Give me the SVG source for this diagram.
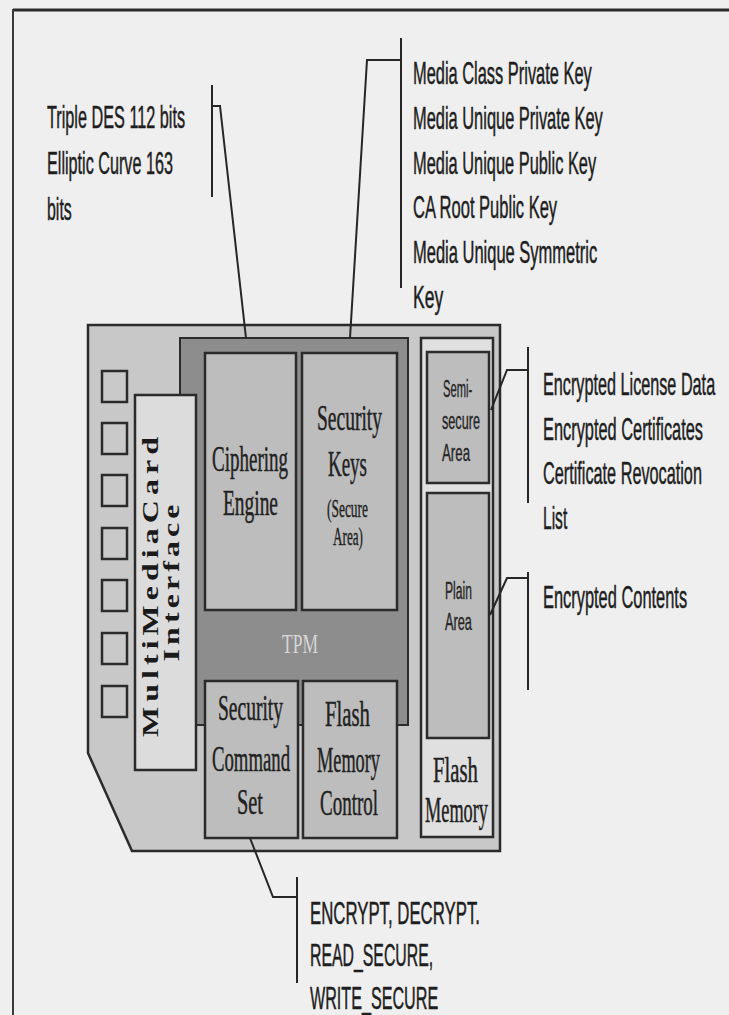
<svg xmlns="http://www.w3.org/2000/svg" width="729" height="1015" viewBox="0 0 729 1015">
<defs>
<style>
.sans{font-family:"Liberation Sans",Arial,sans-serif;font-size:31px;fill:#1e1e1e;stroke:#1e1e1e;stroke-width:0.5}
.small{font-family:"Liberation Sans",Arial,sans-serif;font-size:24px;fill:#262626;stroke:#262626;stroke-width:0.4}
.ser{font-family:"Liberation Serif","Times New Roman",serif;font-size:36px;fill:#222;stroke:#222;stroke-width:0.5}
.ser2{font-family:"Liberation Serif","Times New Roman",serif;font-size:26px;fill:#222;stroke:#222;stroke-width:0.4}
.mmc{font-family:"Liberation Serif","Times New Roman",serif;font-size:32px;font-weight:bold;fill:#1a1a1a}
.box{fill:#bdbdbd;stroke:#2b2b2b;stroke-width:2.5}
.pin{fill:#c9c9c9;stroke:#2b2b2b;stroke-width:2.5}
.lead{fill:none;stroke:#262626;stroke-width:2}
</style>
</defs>
<rect x="0" y="0" width="729" height="1015" fill="#efefef"/>
<g id="frame">
<line x1="13" y1="10" x2="729" y2="10" stroke="#2a2a2a" stroke-width="3"/>
<line x1="13" y1="9" x2="13" y2="1015" stroke="#3a3a3a" stroke-width="2"/>
</g>
<g id="card">
<polygon points="88,325 500,325 500,851 132,851 88,753" fill="#c8c8c8" stroke="#2b2b2b" stroke-width="2.5"/>
</g>
<g id="contacts">
<rect class="pin" x="102" y="371" width="25" height="31"/>
<rect class="pin" x="102" y="423" width="25" height="31"/>
<rect class="pin" x="102" y="475" width="25" height="31"/>
<rect class="pin" x="102" y="528" width="25" height="31"/>
<rect class="pin" x="102" y="580" width="25" height="31"/>
<rect class="pin" x="102" y="633" width="25" height="31"/>
<rect class="pin" x="102" y="686" width="25" height="31"/>
</g>
<g id="tpm">
<rect x="180" y="338" width="228" height="387" fill="#8d8d8d" stroke="#2b2b2b" stroke-width="2"/>
<text transform="translate(282,653) scale(0.5,1)" textLength="72" lengthAdjust="spacingAndGlyphs" style="font-family:'Liberation Serif',serif;font-size:28px;fill:#d6d6d6">TPM</text>
</g>
<g id="mmc-interface">
<rect x="135" y="395" width="61" height="375" fill="#dcdcdc" stroke="#2b2b2b" stroke-width="2.5"/>
<text class="mmc" transform="translate(158,587) rotate(-90) scale(1,0.72)" text-anchor="middle" textLength="300" lengthAdjust="spacing">MultiMediaCard</text>
<text class="mmc" transform="translate(179,583) rotate(-90) scale(1,0.72)" text-anchor="middle" textLength="157" lengthAdjust="spacing">Interface</text>
</g>
<g id="ciphering-engine">
<rect class="box" x="205" y="353" width="91" height="257"/>
<text class="ser" transform="translate(212,471) scale(0.5,1)" textLength="152" lengthAdjust="spacingAndGlyphs">Ciphering</text>
<text class="ser" transform="translate(223,515) scale(0.5,1)" textLength="110" lengthAdjust="spacingAndGlyphs">Engine</text>
</g>
<g id="security-keys">
<rect class="box" x="302" y="353" width="95" height="257"/>
<text class="ser" transform="translate(317,430) scale(0.5,1)" textLength="130" lengthAdjust="spacingAndGlyphs">Security</text>
<text class="ser" transform="translate(328,476) scale(0.5,1)" textLength="78" lengthAdjust="spacingAndGlyphs">Keys</text>
<text class="ser2" transform="translate(327,517) scale(0.5,1)" textLength="82" lengthAdjust="spacingAndGlyphs">(Secure</text>
<text class="ser2" transform="translate(333,545) scale(0.5,1)" textLength="60" lengthAdjust="spacingAndGlyphs">Area)</text>
</g>
<g id="security-command-set">
<rect class="box" x="205" y="681" width="93" height="157"/>
<text class="ser" transform="translate(218,720) scale(0.5,1)" textLength="130" lengthAdjust="spacingAndGlyphs">Security</text>
<text class="ser" transform="translate(212,771) scale(0.5,1)" textLength="156" lengthAdjust="spacingAndGlyphs">Command</text>
<text class="ser" transform="translate(237,814) scale(0.5,1)" textLength="52" lengthAdjust="spacingAndGlyphs">Set</text>
</g>
<g id="flash-memory-control">
<rect class="box" x="303" y="681" width="94" height="157"/>
<text class="ser" transform="translate(325,726) scale(0.5,1)" textLength="90" lengthAdjust="spacingAndGlyphs">Flash</text>
<text class="ser" transform="translate(317,772) scale(0.5,1)" textLength="126" lengthAdjust="spacingAndGlyphs">Memory</text>
<text class="ser" transform="translate(320,815) scale(0.5,1)" textLength="116" lengthAdjust="spacingAndGlyphs">Control</text>
</g>
<g id="flash-memory">
<rect x="421" y="338" width="72" height="499" fill="#e0e0e0" stroke="#2b2b2b" stroke-width="2.5"/>
<text class="ser" transform="translate(433,782) scale(0.5,1)" textLength="90" lengthAdjust="spacingAndGlyphs">Flash</text>
<text class="ser" transform="translate(425,822) scale(0.5,1)" textLength="126" lengthAdjust="spacingAndGlyphs">Memory</text>
</g>
<g id="semi-secure-area">
<rect class="box" x="427" y="352" width="62" height="131"/>
<text class="small" transform="translate(443,397) scale(0.55,1)" textLength="53" lengthAdjust="spacingAndGlyphs">Semi-</text>
<text class="small" transform="translate(442,429) scale(0.55,1)" textLength="69" lengthAdjust="spacingAndGlyphs">secure</text>
<text class="small" transform="translate(442,461) scale(0.55,1)" textLength="51" lengthAdjust="spacingAndGlyphs">Area</text>
</g>
<g id="plain-area">
<rect class="box" x="427" y="493" width="62" height="245"/>
<text class="small" transform="translate(445,599) scale(0.55,1)" textLength="49" lengthAdjust="spacingAndGlyphs">Plain</text>
<text class="small" transform="translate(445,630) scale(0.55,1)" textLength="49" lengthAdjust="spacingAndGlyphs">Area</text>
</g>
<g id="connectors">
<line class="lead" x1="212" y1="85" x2="212" y2="197"/>
<polyline class="lead" points="212,106 220,106 246,338"/>
<line class="lead" x1="401" y1="38" x2="401" y2="288"/>
<polyline class="lead" points="401,60 367,60 350,338"/>
<line class="lead" x1="528" y1="347" x2="528" y2="503"/>
<polyline class="lead" points="528,370 507,370 491,410"/>
<line class="lead" x1="528" y1="572" x2="528" y2="690"/>
<polyline class="lead" points="528,578 507,578 490,615"/>
<line class="lead" x1="297" y1="877" x2="297" y2="983"/>
<polyline class="lead" points="250,838 273,897 297,897"/>
</g>
<g id="label-cipher">
<text class="sans" transform="translate(47,128) scale(0.55,1)" textLength="251" lengthAdjust="spacingAndGlyphs">Triple DES 112 bits</text>
<text class="sans" transform="translate(47,174) scale(0.55,1)" textLength="229" lengthAdjust="spacingAndGlyphs">Elliptic Curve 163</text>
<text class="sans" transform="translate(47,220) scale(0.55,1)" textLength="45" lengthAdjust="spacingAndGlyphs">bits</text>
</g>
<g id="label-keys">
<text class="sans" transform="translate(413,84) scale(0.55,1)" textLength="325" lengthAdjust="spacingAndGlyphs">Media Class Private Key</text>
<text class="sans" transform="translate(413,129) scale(0.55,1)" textLength="345" lengthAdjust="spacingAndGlyphs">Media Unique Private Key</text>
<text class="sans" transform="translate(413,174) scale(0.55,1)" textLength="333" lengthAdjust="spacingAndGlyphs">Media Unique Public Key</text>
<text class="sans" transform="translate(413,218) scale(0.55,1)" textLength="262" lengthAdjust="spacingAndGlyphs">CA Root Public Key</text>
<text class="sans" transform="translate(413,263) scale(0.55,1)" textLength="335" lengthAdjust="spacingAndGlyphs">Media Unique Symmetric</text>
<text class="sans" transform="translate(413,308) scale(0.55,1)" textLength="55" lengthAdjust="spacingAndGlyphs">Key</text>
</g>
<g id="label-semi">
<text class="sans" transform="translate(543,395) scale(0.55,1)" textLength="313" lengthAdjust="spacingAndGlyphs">Encrypted License Data</text>
<text class="sans" transform="translate(543,440) scale(0.55,1)" textLength="291" lengthAdjust="spacingAndGlyphs">Encrypted Certificates</text>
<text class="sans" transform="translate(543,484) scale(0.55,1)" textLength="289" lengthAdjust="spacingAndGlyphs">Certificate Revocation</text>
<text class="sans" transform="translate(543,529) scale(0.55,1)" textLength="44" lengthAdjust="spacingAndGlyphs">List</text>
</g>
<g id="label-plain">
<text class="sans" transform="translate(543,608) scale(0.55,1)" textLength="262" lengthAdjust="spacingAndGlyphs">Encrypted Contents</text>
</g>
<g id="label-commands">
<text class="sans" transform="translate(310,924) scale(0.55,1)" textLength="309" lengthAdjust="spacingAndGlyphs">ENCRYPT, DECRYPT.</text>
<text class="sans" transform="translate(310,966) scale(0.55,1)" textLength="224" lengthAdjust="spacingAndGlyphs">READ_SECURE,</text>
<text class="sans" transform="translate(310,1009) scale(0.55,1)" textLength="233" lengthAdjust="spacingAndGlyphs">WRITE_SECURE</text>
</g>
</svg>
